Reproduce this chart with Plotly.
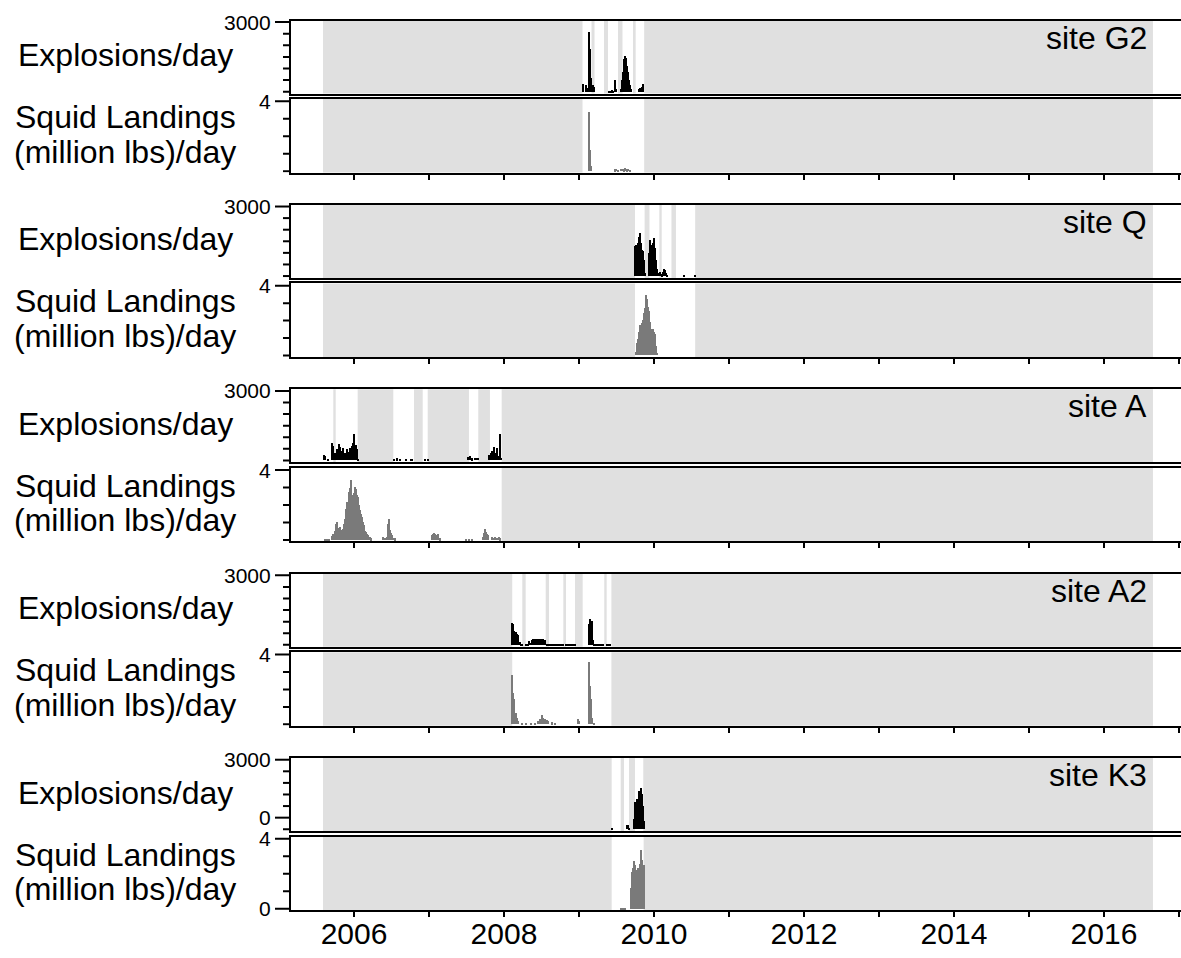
import plotly.graph_objects as go

# ---------------------------------------------------------------
# Time axis (decimal years) and overall study window
# ---------------------------------------------------------------
X_MIN, X_MAX = 2005.16, 2017.027
STUDY_START, STUDY_END = 2005.587, 2016.653
YEAR_TICKS = list(range(2006, 2018))
YEAR_TEXT = [str(y) if y % 2 == 0 else "" for y in YEAR_TICKS]

site_names = ["site G2", "site Q", "site A", "site A2", "site K3"]

# ---------------------------------------------------------------
# Site G2
# ---------------------------------------------------------------
g2_effort = [[2009.047, 2009.167], [2009.207, 2009.333], [2009.387, 2009.520],
             [2009.580, 2009.720], [2009.756, 2009.869]]
g2_squid_span = [2009.047, 2009.869]
g2_expl_t = [2009.050, 2009.100, 2009.118, 2009.128, 2009.140, 2009.150, 2009.160,
             2009.192, 2009.205, 2009.405, 2009.420, 2009.435, 2009.453, 2009.480,
             2009.493,
             2009.555, 2009.570, 2009.582, 2009.594, 2009.606, 2009.618, 2009.630,
             2009.642, 2009.654, 2009.666, 2009.678, 2009.690,
             2009.795, 2009.810, 2009.825, 2009.840, 2009.855]
g2_expl_n = [340, 320, 200, 1300, 2600, 1850, 600,
             300, 210, 70, 60, 80, 60, 530,
             150,
             150, 520, 870, 1300, 1450, 1560, 1480,
             1150, 870, 520, 300, 120,
             150, 180, 160, 220, 350]
g2_squid_t = [2009.128, 2009.140, 2009.152, 2009.164,
              2009.480, 2009.500, 2009.520, 2009.560, 2009.580, 2009.600,
              2009.620, 2009.640, 2009.660, 2009.680]
g2_squid_v = [0.4, 3.37, 1.2, 0.3,
              0.10, 0.12, 0.08, 0.12, 0.15, 0.10,
              0.18, 0.10, 0.12, 0.06]

# ---------------------------------------------------------------
# Site Q
# ---------------------------------------------------------------
q_effort = [[2009.747, 2009.875], [2009.940, 2010.071], [2010.103, 2010.233],
            [2010.293, 2010.549]]
q_squid_span = [2009.747, 2010.549]
q_expl_t = [2009.748, 2009.760, 2009.772, 2009.784, 2009.796, 2009.808, 2009.820,
            2009.832, 2009.844, 2009.856, 2009.868, 2009.880,
            2009.940, 2009.952, 2009.964, 2009.976, 2009.988, 2010.000, 2010.012,
            2010.024, 2010.036, 2010.060, 2010.075,
            2010.105, 2010.120, 2010.135, 2010.150, 2010.165, 2010.180,
            2010.400, 2010.545]
q_expl_n = [1300, 1350, 1250, 1420, 1700, 1600, 1870,
            1450, 1150, 1100, 700, 150,
            1000, 1550, 1350, 1100, 1450, 1650, 1200,
            700, 300, 150, 200,
            80, 200, 300, 250, 120, 50,
            15, 30]
q_squid_t = [2009.760, 2009.770, 2009.780, 2009.790, 2009.800, 2009.810, 2009.820,
             2009.830, 2009.840, 2009.850, 2009.860, 2009.870, 2009.880, 2009.890,
             2009.900, 2009.910, 2009.920, 2009.930, 2009.940, 2009.950, 2009.960,
             2009.970, 2009.980, 2009.990, 2010.000, 2010.010, 2010.020, 2010.030,
             2010.040]
q_squid_v = [0.2, 0.4, 0.7, 0.9, 1.3, 1.6, 1.75,
             1.5, 1.85, 2.0, 1.9, 2.4, 2.7, 3.1,
             3.45, 3.2, 2.75, 2.5, 2.2, 1.9, 1.5,
             1.3, 1.45, 1.5, 1.35, 1.2, 0.9, 0.5,
             0.15]

# ---------------------------------------------------------------
# Site A
# ---------------------------------------------------------------
a_effort = [[2005.587, 2005.724], [2005.756, 2006.049], [2006.524, 2006.800],
            [2006.916, 2006.983], [2007.533, 2007.657], [2007.813, 2007.969]]
a_squid_span = [2005.587, 2007.969]
a_expl_t = [2005.604, 2005.618, 2005.655, 2005.712, 2005.726, 2005.740, 2005.752,
            2005.772, 2005.786, 2005.802, 2005.816, 2005.836, 2005.858, 2005.880,
            2005.902, 2005.924, 2005.947, 2005.969, 2005.982, 2006.004, 2006.022,
            2006.040, 2006.058,
            2006.530, 2006.580, 2006.620, 2006.700, 2006.760, 2006.780,
            2006.950, 2006.985,
            2007.516, 2007.533, 2007.547, 2007.569, 2007.613, 2007.635, 2007.655,
            2007.800, 2007.815, 2007.830, 2007.844, 2007.862, 2007.880, 2007.893,
            2007.907, 2007.924, 2007.942, 2007.956]
a_expl_n = [224, 180, 70, 728, 600, 322, 300,
            462, 380, 700, 560, 392, 532, 322,
            462, 364, 532, 602, 742, 1120, 672,
            462, 70,
            40, 84, 50, 50, 45, 40,
            30, 30,
            140, 120, 182, 80, 112, 90, 112,
            224, 200, 300, 392, 560, 250, 300,
            532, 175, 1120, 100]
a_squid_t = [2005.613, 2005.640, 2005.670, 2005.702, 2005.715, 2005.730, 2005.745,
             2005.756, 2005.769, 2005.780, 2005.791, 2005.802, 2005.813, 2005.825,
             2005.836, 2005.847, 2005.858, 2005.869, 2005.880, 2005.891, 2005.902,
             2005.913, 2005.924, 2005.938, 2005.947, 2005.956, 2005.969, 2005.980,
             2005.991, 2006.002, 2006.013, 2006.022, 2006.031, 2006.040, 2006.049,
             2006.060, 2006.071, 2006.082, 2006.093, 2006.105, 2006.116, 2006.127,
             2006.138, 2006.149, 2006.160, 2006.175, 2006.191, 2006.210, 2006.227,
             2006.391, 2006.410, 2006.436, 2006.449, 2006.458, 2006.467, 2006.480,
             2006.491, 2006.502, 2006.525, 2006.547,
             2007.036, 2007.050, 2007.062, 2007.071, 2007.085, 2007.100, 2007.112,
             2007.124, 2007.147,
             2007.500, 2007.535, 2007.570, 2007.724, 2007.736, 2007.747, 2007.758,
             2007.769, 2007.780, 2007.791, 2007.836, 2007.860, 2007.885, 2007.910,
             2007.930, 2007.947]
a_squid_v = [0.08, 0.06, 0.08, 0.25, 0.37, 0.30, 0.55,
             0.94, 1.04, 0.80, 0.65, 0.70, 0.75, 0.60,
             0.56, 0.62, 0.65, 0.90, 1.23, 1.80, 2.19,
             2.00, 2.00, 2.77, 3.00, 3.44, 2.58, 2.40,
             2.29, 2.70, 3.06, 2.90, 2.77, 2.60, 2.48,
             2.20, 2.00, 1.75, 1.52, 1.30, 1.04, 0.85,
             0.65, 0.55, 0.46, 0.35, 0.27, 0.18, 0.10,
             0.17, 0.15, 0.20, 0.65, 0.95, 1.23, 0.60,
             0.40, 0.27, 0.15, 0.10,
             0.30, 0.37, 0.30, 0.42, 0.35, 0.30, 0.25,
             0.37, 0.10,
             0.08, 0.06, 0.08, 0.17, 0.40, 0.65, 0.45,
             0.37, 0.30, 0.27, 0.17, 0.15, 0.17, 0.12,
             0.17, 0.10]

# ---------------------------------------------------------------
# Site A2
# ---------------------------------------------------------------
a2_effort = [[2008.110, 2008.244], [2008.289, 2008.556], [2008.600, 2008.791],
             [2008.827, 2008.947], [2009.049, 2009.337], [2009.369, 2009.432]]
a2_squid_span = [2008.110, 2009.432]
a2_expl_t = [2008.111, 2008.124, 2008.138, 2008.156, 2008.173, 2008.191, 2008.209,
             2008.227, 2008.244, 2008.290, 2008.305, 2008.320, 2008.333, 2008.351,
             2008.369, 2008.391, 2008.413, 2008.436, 2008.458, 2008.480, 2008.502,
             2008.524, 2008.547, 2008.569, 2008.584, 2008.599, 2008.613, 2008.628,
             2008.643, 2008.658, 2008.673, 2008.688, 2008.703, 2008.718, 2008.733,
             2008.748, 2008.763, 2008.778, 2008.793, 2008.830, 2008.845, 2008.860,
             2008.875, 2008.890, 2008.902, 2008.917, 2008.932, 2008.947,
             2009.133, 2009.151, 2009.169, 2009.187, 2009.205, 2009.220, 2009.235,
             2009.250, 2009.265, 2009.280, 2009.295, 2009.310, 2009.325, 2009.375,
             2009.390, 2009.405, 2009.420]
a2_expl_n = [950, 904, 625, 556, 487, 417, 139,
             40, 30, 70, 60, 70, 167, 110,
             209, 250, 278, 250, 278, 250, 278,
             250, 209, 55, 60, 50, 55, 40,
             45, 40, 35, 40, 45, 40, 35,
             40, 45, 40, 35, 40, 45, 40,
             50, 60, 70, 45, 40, 40,
             904, 1140, 1042, 209, 60, 40, 35,
             40, 35, 40, 30, 35, 30, 25,
             25, 30, 25]
a2_squid_t = [2008.111, 2008.124, 2008.138, 2008.156, 2008.173, 2008.191, 2008.240,
              2008.300, 2008.360, 2008.413, 2008.458, 2008.480, 2008.502, 2008.524,
              2008.547, 2008.569, 2008.591, 2008.636, 2008.680,
              2008.983, 2009.000,
              2009.133, 2009.147, 2009.160, 2009.178, 2009.204]
a2_squid_v = [2.81, 1.8, 1.42, 0.65, 0.37, 0.17, 0.08,
              0.08, 0.08, 0.08, 0.17, 0.31, 0.50, 0.37,
              0.30, 0.23, 0.17, 0.10, 0.06,
              0.31, 0.20,
              3.54, 2.2, 1.42, 0.37, 0.08]

# ---------------------------------------------------------------
# Site K3
# ---------------------------------------------------------------
k3_effort = [[2009.436, 2009.556], [2009.600, 2009.667], [2009.747, 2009.857]]
k3_squid_span = [2009.436, 2009.862]
k3_expl_t = [2009.440, 2009.636, 2009.650, 2009.667, 2009.738, 2009.747, 2009.760,
             2009.773, 2009.787, 2009.800, 2009.813, 2009.827, 2009.840, 2009.853,
             2009.867]
k3_expl_n = [30, 173, 190, 70, 432, 1152, 792,
             1296, 936, 1656, 1440, 1757, 1512, 1008,
             360]
k3_squid_t = [2009.560, 2009.590, 2009.613, 2009.690, 2009.702, 2009.711, 2009.720,
              2009.729, 2009.738, 2009.747, 2009.756, 2009.765, 2009.773, 2009.782,
              2009.791, 2009.800, 2009.809, 2009.816, 2009.822, 2009.829, 2009.836,
              2009.842, 2009.849, 2009.856, 2009.862, 2009.870]
k3_squid_v = [0.06, 0.06, 0.06, 1.2, 1.87, 2.1, 2.35,
              2.55, 2.73, 2.5, 2.25, 2.1, 1.96, 2.2,
              2.35, 2.1, 1.87, 2.6, 3.4, 3.0, 2.83,
              2.5, 2.35, 2.54, 2.54, 1.87]

sites = [
    (g2_effort, g2_squid_span, g2_expl_t, g2_expl_n, g2_squid_t, g2_squid_v),
    (q_effort, q_squid_span, q_expl_t, q_expl_n, q_squid_t, q_squid_v),
    (a_effort, a_squid_span, a_expl_t, a_expl_n, a_squid_t, a_squid_v),
    (a2_effort, a2_squid_span, a2_expl_t, a2_expl_n, a2_squid_t, a2_squid_v),
    (k3_effort, k3_squid_span, k3_expl_t, k3_expl_n, k3_squid_t, k3_squid_v),
]

# y ticks: (value, label); label "" means an unlabelled short tick
expl_ticks = [(0, ""), (500, ""), (1000, ""), (1500, ""), (2000, ""), (2500, ""), (3000, "3000")]
expl_ticks_last = [(0, ""), (500, "0"), (1000, ""), (1500, ""), (2000, ""), (2500, ""), (3000, "3000")]
squid_ticks = [(0, ""), (1, ""), (2, ""), (3, ""), (4, "4")]
squid_ticks_last = [(0, "0"), (1, ""), (2, ""), (3, ""), (4, "4")]

# ---------------------------------------------------------------
# Layout geometry (figure pixels)
# ---------------------------------------------------------------
W, H = 1181, 958
LEFT = 291
ROW0, ROW_STEP = 20.5, 184.4
EXPL_H = 73.0
SQUID_TOP, SQUID_BOTTOM = 78.5, 152.0
LONG_TICK, SHORT_TICK = 16, 8

FONT = "Liberation Sans, Arial, sans-serif"
GREY_BG = "#e0e0e0"
EXPL_COLOR = "#000000"
SQUID_COLOR = "#7a7a7a"
BAR_W = 0.014


def py(v):
    return 1 - v / H


def no_effort(intervals):
    """Gaps in recording inside the study window."""
    out, cur = [], STUDY_START
    for a, b in sorted(intervals):
        if a > cur:
            out.append((cur, a))
        cur = max(cur, b)
    if cur < STUDY_END:
        out.append((cur, STUDY_END))
    return out


fig = go.Figure()
shapes, annotations = [], []
layout_axes = {}
tick_font = dict(family=FONT, size=21, color="black")
lab_font = dict(family=FONT, size=32, color="black")

for i, (effort, span, et, en, st, sv) in enumerate(sites):
    top = ROW0 + ROW_STEP * i
    last_row = i == len(sites) - 1
    panels = [
        ("expl", top, top + EXPL_H, effort, et, en, EXPL_COLOR,
         [-80, 3070], expl_ticks_last if last_row else expl_ticks),
        ("squid", top + SQUID_TOP, top + SQUID_BOTTOM, [span], st, sv, SQUID_COLOR,
         [-0.077, 4.13], squid_ticks_last if last_row else squid_ticks),
    ]
    for j, (kind, y_top, y_bot, eff, t, v, color, yr, yticks) in enumerate(panels):
        k = 2 * i + j + 1
        sfx = "" if k == 1 else str(k)
        xa, ya = "x" + sfx, "y" + sfx

        fig.add_trace(go.Bar(x=t, y=v, width=BAR_W, marker_color=color,
                             marker_line_width=0, xaxis=xa, yaxis=ya,
                             hoverinfo="x+y"))

        for a, b in no_effort(eff):
            shapes.append(dict(type="rect", xref=xa, yref=ya + " domain",
                               x0=a, x1=b, y0=0, y1=1, fillcolor=GREY_BG,
                               line_width=0, layer="below"))

        # left-hand ticks: long where labelled, short otherwise
        for val, lab in yticks:
            ln = LONG_TICK if lab else SHORT_TICK
            shapes.append(dict(type="line", xref="paper", yref=ya,
                               x0=(LEFT - ln) / W, x1=LEFT / W, y0=val, y1=val,
                               line=dict(color="black", width=2)))
            if lab:
                annotations.append(dict(text=lab, xref="paper", yref=ya,
                                        x=(LEFT - LONG_TICK - 2) / W, y=val,
                                        xanchor="right", yanchor="middle",
                                        showarrow=False, font=tick_font))

        bottom_axis = kind == "squid"
        xaxis = dict(domain=[LEFT / W, 1], anchor=ya, range=[X_MIN, X_MAX],
                     showline=True, linecolor="black", linewidth=2, mirror=True,
                     showgrid=False, zeroline=False, automargin=False,
                     tickvals=YEAR_TICKS, ticktext=YEAR_TEXT,
                     ticks="outside" if bottom_axis else "",
                     ticklen=5, tickwidth=2, tickcolor="black",
                     ticklabelstandoff=-9,
                     showticklabels=bottom_axis and last_row,
                     tickfont=dict(family=FONT, size=30, color="black"))
        if k > 1:
            xaxis["matches"] = "x"

        yaxis = dict(domain=[py(y_bot), py(y_top)], anchor=xa, range=yr,
                     showline=True, linecolor="black", linewidth=2, mirror=False,
                     showgrid=False, zeroline=False, automargin=False,
                     ticks="", showticklabels=False)

        layout_axes["xaxis" + sfx] = xaxis
        layout_axes["yaxis" + sfx] = yaxis

    # panel labels
    for text, yy in [("Explosions/day", top + 34.5),
                     ("Squid Landings", top + 96.5),
                     ("(million lbs)/day", top + 131)]:
        annotations.append(dict(text=text, xref="paper", yref="paper",
                                x=125 / W, y=py(yy), xanchor="center",
                                yanchor="middle", showarrow=False, font=lab_font))
    annotations.append(dict(text=site_names[i], xref="paper", yref="paper",
                            x=1149 / W, y=py(top + 17), xanchor="right",
                            yanchor="middle", showarrow=False, font=lab_font))

fig.update_layout(
    width=W, height=H,
    margin=dict(l=0, r=0, t=0, b=0, pad=0),
    paper_bgcolor="white", plot_bgcolor="white",
    showlegend=False, bargap=0,
    shapes=shapes, annotations=annotations,
    font=dict(family=FONT, color="black"),
    **layout_axes,
)

fig.write_html("out.html", config={"displayModeBar": False},
               post_script="document.body.style.margin = '0px';")
